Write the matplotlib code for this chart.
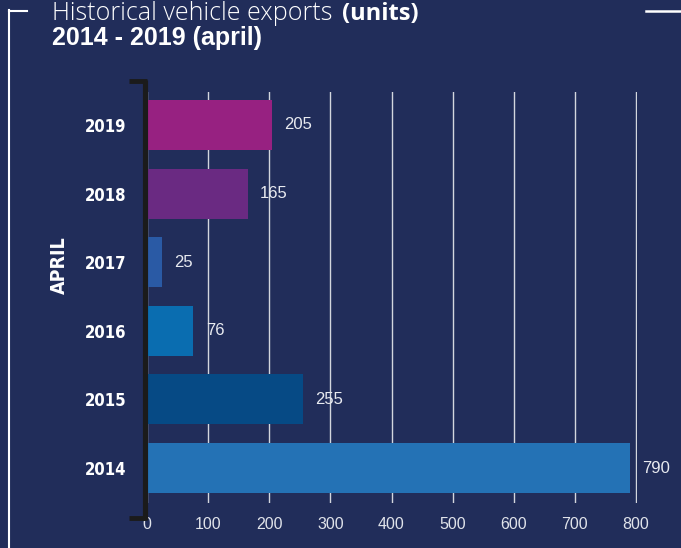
import matplotlib
matplotlib.use("Agg")
import matplotlib.pyplot as plt
from matplotlib.lines import Line2D

years = ["2014", "2015", "2016", "2017", "2018", "2019"]
values = [790, 255, 76, 25, 165, 205]
colors = ["#2472b5", "#064a85", "#0a6db0", "#2a5aa5", "#6a2a82", "#972181"]
xticks = [0, 100, 200, 300, 400, 500, 600, 700, 800]

BG = "#212d5a"
W, H = 681, 548
fig = plt.figure(figsize=(W / 100, H / 100), dpi=100, facecolor=BG)

def fx(px):
    return px / W

def fy(py):
    return 1 - py / H

x0, x800 = 147, 636
ax = fig.add_axes([fx(x0), fy(503), (x800 - x0) * 802 / 800 / W, fy(92) - fy(503)])
ax.set_facecolor(BG)
ypos = list(range(len(years)))
ax.set_xlim(0, 802)
ax.set_ylim(-0.51, 5.48)
ax.set_xticks(xticks)
ax.grid(axis="x", color="#d3d6de", lw=1.0)
ax.set_axisbelow(True)
ax.barh(ypos, values, height=0.73, color=colors, zorder=3)
for s in ax.spines.values():
    s.set_visible(False)

light = ["Liberation Sans", "DejaVu Sans"]
opens = ["Open Sans", "DejaVu Sans"]

ax.set_yticks(ypos)
ax.set_yticklabels(years, family="DejaVu Sans", fontstretch="condensed",
                   fontweight="bold", fontsize=12, color="white")
ax.tick_params(axis="y", length=0, pad=15)
ax.tick_params(axis="x", length=0, pad=10, labelcolor="#e0e3ea", labelsize=11.5)
for lbl in ax.get_xticklabels():
    lbl.set_family(light)

for y, v in zip(ypos, values):
    ax.text(v + 20, y, str(v), va="center", ha="left", color="#e8eaf0",
            fontsize=12, family=light)

# APRIL label
fig.text(fx(59), fy(265), "APRIL", rotation=90, ha="center", va="center",
         color="white", fontsize=14, fontweight="bold", family="DejaVu Sans",
         fontstretch="condensed")

# Title
fig.text(fx(52), fy(20), "Historical vehicle exports", ha="left", va="baseline",
         color="white", fontsize=18, fontweight="light", family=opens)
fig.text(fx(342), fy(20), "(units)", ha="left", va="baseline",
         color="white", fontsize=17, fontweight="bold", family=opens)
fig.text(fx(52), fy(45.5), "2014 - 2019 (april)", ha="left", va="baseline",
         color="white", fontsize=18, fontweight="bold", family=light)

# Black bracket
dark = "#1b1b1b"
fig.add_artist(Line2D([fx(144.5), fx(144.5)], [fy(80), fy(520)], color=dark, lw=3.7,
                      solid_capstyle="butt"))
fig.add_artist(Line2D([fx(129), fx(147)], [fy(81.5), fy(81.5)], color=dark, lw=3.5,
                      solid_capstyle="butt"))
fig.add_artist(Line2D([fx(129), fx(146)], [fy(517.5), fy(517.5)], color=dark, lw=3.5,
                      solid_capstyle="butt"))

# White frame lines
fig.add_artist(Line2D([fx(9), fx(9)], [fy(10), fy(548)], color="white", lw=1.5,
                      solid_capstyle="projecting"))
fig.add_artist(Line2D([fx(9), fx(27)], [fy(11), fy(11)], color="white", lw=1.5))
fig.add_artist(Line2D([fx(646), fx(681)], [fy(11), fy(11)], color="white", lw=1.8))

fig.savefig("out.png", dpi=100, facecolor=BG)
